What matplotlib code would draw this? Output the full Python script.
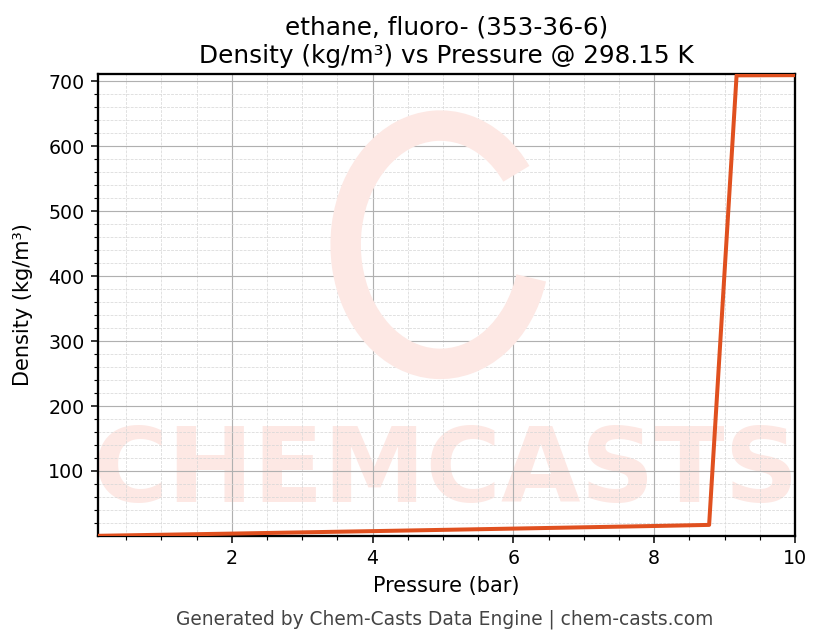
import matplotlib
matplotlib.use("Agg")
import matplotlib.pyplot as plt
from matplotlib.patches import Arc
from matplotlib.ticker import MultipleLocator

# Data
pressure_bar = [0.1, 2.0, 4.0, 6.0, 8.0, 8.78, 9.17, 10.0]
density_kgm3 = [0.2, 3.6, 7.4, 11.3, 15.3, 17.0, 709.0, 709.3]

title = "ethane, fluoro- (353-36-6)\nDensity (kg/m³) vs Pressure @ 298.15 K"
footer = "Generated by Chem-Casts Data Engine | chem-casts.com"

dpi = 137
fig = plt.figure(figsize=(823 / dpi, 644 / dpi), dpi=dpi)
ax = fig.add_axes([0.119, 0.168, 0.847, 0.717])

# watermark
wm = "#fde8e4"
ax.text(0.5, 0.135, "CHEMCASTS", transform=ax.transAxes, ha="center", va="center",
        fontsize=54, fontweight="bold", color=wm, zorder=0)
logo = Arc((0.535, 0.62), 0.23, 0.37, theta1=50, theta2=335,
           transform=fig.transFigure, color=wm, lw=16, zorder=0)
fig.patches.append(logo)

ax.set_facecolor("none")
ax.plot(pressure_bar, density_kgm3, color="#e0501f", lw=2.1, zorder=3)

ax.set_xlim(0.1, 10)
ax.set_ylim(0.2, 711)
ax.xaxis.set_major_locator(MultipleLocator(2))
ax.xaxis.set_minor_locator(MultipleLocator(0.5))
ax.yaxis.set_major_locator(MultipleLocator(100))
ax.yaxis.set_minor_locator(MultipleLocator(20))
ax.grid(True, which="major", color="#b0b0b0", lw=0.6)
ax.grid(True, which="minor", color="#d8d8d8", lw=0.4, ls="--")
ax.tick_params(labelsize=10)
for s in ax.spines.values():
    s.set_linewidth(1.2)

ax.set_xlabel("Pressure (bar)", fontsize=11)
ax.set_ylabel("Density (kg/m³)", fontsize=11, labelpad=8)
ax.set_title(title, fontsize=13)
fig.text(0.54, 0.039, footer, ha="center", va="center", fontsize=9.8, color="#444444")

fig.savefig("out.png", dpi=dpi)
